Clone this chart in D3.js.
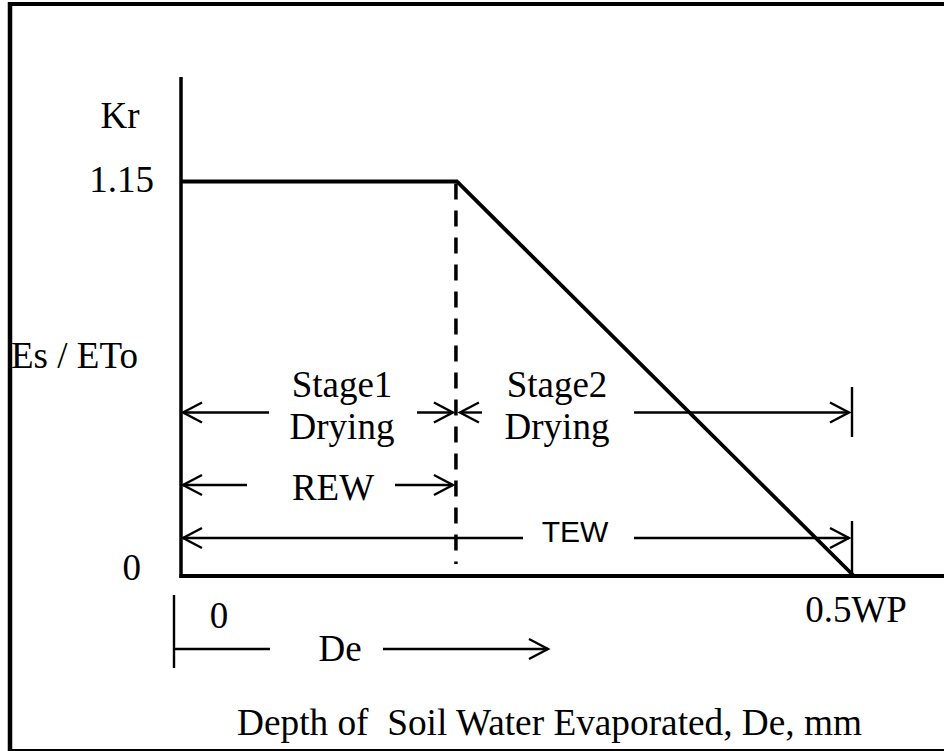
<!DOCTYPE html>
<html>
<head>
<meta charset="utf-8">
<script src="https://cdn.jsdelivr.net/npm/d3@7"></script>
<style>
  html, body { margin: 0; padding: 0; background: #fff; }
  svg { display: block; }
</style>
</head>
<body>
<svg id="chart" width="944" height="751"></svg>
<script>
// ---------- data ----------
const REW = 0.41;            // readily evaporable water (fraction of TEW)
const TEW = 1.0;             // total evaporable water
const krX = [0, REW, TEW];   // De values of the Kr curve
const krY = [1.15, 1.15, 0]; // Kr values
const yTickValues = [0, 1.15];
const yTickLabels = ["0", "1.15"];
const xTickValues = [0, TEW];
const xTickLabels = ["0", "0.5WP"];
const spanLabels = ["Stage1|Drying", "Stage2|Drying", "REW", "TEW"];
const spanFrom = [0, REW, 0, 0];
const spanTo = [REW, TEW, REW, TEW];

// ---------- layout ----------
const SERIF = "'Liberation Serif', 'Times New Roman', serif";
const SANS = "'Liberation Sans', Arial, sans-serif";
const FS = 37;
const svg = d3.select("#chart");
const x = d3.scaleLinear().domain([0, TEW]).range([181, 854]);
const y = d3.scaleLinear().domain([0, 1.15]).range([576, 181.5]);
const yTopPx = 77;

function label(tx, ty, anchor, txt, size, fam) {
  return svg.append("text").attr("x", tx).attr("y", ty)
    .attr("text-anchor", anchor).attr("font-size", size || FS)
    .attr("font-family", fam || SERIF).attr("fill", "#000")
    .attr("xml:space", "preserve").style("white-space", "pre").text(txt);
}

// outer frame
svg.append("line").attr("x1", 8).attr("x2", 944).attr("y1", 4).attr("y2", 4)
  .attr("stroke", "#000").attr("stroke-width", 4);
svg.append("line").attr("x1", 10).attr("x2", 10).attr("y1", 2).attr("y2", 751)
  .attr("stroke", "#000").attr("stroke-width", 4.5);
svg.append("line").attr("x1", 8).attr("x2", 944).attr("y1", 750).attr("y2", 750)
  .attr("stroke", "#000").attr("stroke-width", 2);

// axes
svg.append("line").attr("x1", x(0)).attr("x2", x(0)).attr("y1", yTopPx).attr("y2", y(0) + 2)
  .attr("stroke", "#000").attr("stroke-width", 3.5);
svg.append("line").attr("x1", x(0) - 1.5).attr("x2", 944).attr("y1", y(0)).attr("y2", y(0))
  .attr("stroke", "#000").attr("stroke-width", 4);

// Kr curve
const pts = krX.map((d, i) => [x(d), y(krY[i])]);
svg.append("path").attr("d", d3.line()(pts))
  .attr("fill", "none").attr("stroke", "#000").attr("stroke-width", 3.8)
  .attr("stroke-linejoin", "miter");

// dashed REW line
svg.append("line").attr("x1", x(REW) - 1).attr("x2", x(REW) - 1)
  .attr("y1", y(1.15) + 2).attr("y2", y(0) - 12)
  .attr("stroke", "#000").attr("stroke-width", 3.5).attr("stroke-dasharray", "16,11");

// axis labels / ticks
yTickValues.forEach((v, i) => {
  label(i === 0 ? 141 : 154, y(v) + (i === 0 ? 4 : 10), "end", yTickLabels[i]);
});
label(120, 128, "middle", "Kr");
label(11, 368, "start", "Es / ETo");

xTickValues.forEach((v, i) => {
  label(i === 0 ? 219 : x(v) + 2, i === 0 ? 628 : 622, "middle", xTickLabels[i]);
});

label(237, 735, "start", "Depth of  Soil Water Evaporated, De, mm", 37.3);

// ---------- dimension arrows ----------
function head(px, py, dir) {
  const L = 19, H = 10;
  svg.append("path")
    .attr("d", `M${px - dir * L},${py - H} L${px},${py} L${px - dir * L},${py + H}`)
    .attr("fill", "none").attr("stroke", "#000").attr("stroke-width", 2.4);
}
function seg(x1, x2, py) {
  svg.append("line").attr("x1", x1).attr("x2", x2).attr("y1", py).attr("y2", py)
    .attr("stroke", "#000").attr("stroke-width", 2.4);
}
function vtick(px, y1, y2) {
  svg.append("line").attr("x1", px).attr("x2", px).attr("y1", y1).attr("y2", y2)
    .attr("stroke", "#000").attr("stroke-width", 2.4);
}

const rows = [
  { py: 412.5, l: x(spanFrom[0]) + 2, r: x(spanTo[0]) - 4, cx: 342, gapL: 269, gapR: 417, textY: [397, 439], sans: false },
  { py: 412.5, l: x(spanFrom[1]) + 3, r: x(spanTo[1]) - 5, cx: 557, gapL: 482, gapR: 634, textY: [397, 439], sans: false },
  { py: 485, l: x(spanFrom[2]) + 2, r: x(spanTo[2]) - 4, cx: 333, gapL: 247, gapR: 395, textY: [500], sans: false },
  { py: 538, l: x(spanFrom[3]) + 2, r: x(spanTo[3]) - 5, cx: 575, gapL: 523, gapR: 634, textY: [542], sans: true }
];
rows.forEach((rw, i) => {
  seg(rw.l, rw.gapL, rw.py);
  seg(rw.gapR, rw.r, rw.py);
  head(rw.l, rw.py, -1);
  head(rw.r, rw.py, 1);
  spanLabels[i].split("|").forEach((t, j) => {
    if (rw.sans) label(rw.cx, rw.textY[j], "middle", t, 30, SANS);
    else label(rw.cx, rw.textY[j], "middle", t);
  });
});
vtick(x(TEW) - 2, 387, 437);
vtick(x(TEW) - 2, 521, y(0));

// De arrow below axis
vtick(174, 595, 668);
seg(174, 270, 649);
seg(383, 548, 649);
head(548, 649, 1);
label(340, 661, "middle", "De");
</script>
</body>
</html>
